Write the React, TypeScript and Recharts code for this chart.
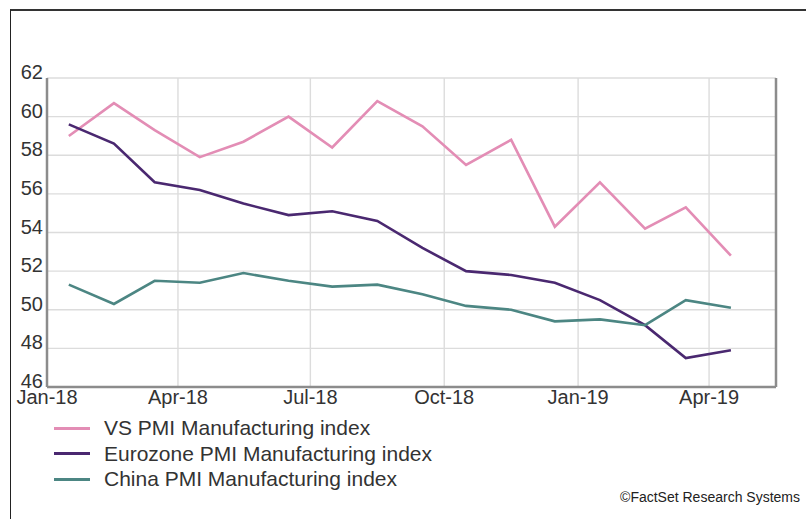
import React from 'react';
import { LineChart, Line, XAxis, YAxis, CartesianGrid } from 'recharts';

// monthly readings (plotted mid-month)
const months = [
  '2018-01-16', '2018-02-16', '2018-03-16', '2018-04-16', '2018-05-16', '2018-06-16',
  '2018-07-16', '2018-08-16', '2018-09-16', '2018-10-16', '2018-11-16', '2018-12-16',
  '2019-01-16', '2019-02-16', '2019-03-16', '2019-04-16',
];
const vsPmi = [59.0, 60.7, 59.3, 57.9, 58.7, 60.0, 58.4, 60.8, 59.5, 57.5, 58.8, 54.3, 56.6, 54.2, 55.3, 52.8];
const eurozonePmi = [59.6, 58.6, 56.6, 56.2, 55.5, 54.9, 55.1, 54.6, 53.2, 52.0, 51.8, 51.4, 50.5, 49.2, 47.5, 47.9];
const chinaPmi = [51.3, 50.3, 51.5, 51.4, 51.9, 51.5, 51.2, 51.3, 50.8, 50.2, 50.0, 49.4, 49.5, 49.2, 50.5, 50.1];

const tickDates = ['2018-01-01', '2018-04-01', '2018-07-01', '2018-10-01', '2019-01-01', '2019-04-01'];
const tickLabels = ['Jan-18', 'Apr-18', 'Jul-18', 'Oct-18', 'Jan-19', 'Apr-19'];
const yTicks = [46, 48, 50, 52, 54, 56, 58, 60, 62];

const seriesNames = ['VS PMI Manufacturing index', 'Eurozone PMI Manufacturing index', 'China PMI Manufacturing index'];
const colors = ['#e38db5', '#4a2870', '#4c8683'];

const ts = (d: string) => Date.parse(d + 'T00:00:00Z');
const xStart = ts('2018-01-01');
const xEnd = ts('2019-05-17');

const data = months.map((m, i) => ({
  t: ts(m),
  vs: vsPmi[i],
  ez: eurozonePmi[i],
  cn: chinaPmi[i],
}));
const xTicks = tickDates.map(ts);

const FONT = '"Liberation Sans", Arial, sans-serif';
const TEXT = '#333333';
const AXIS = '#8c8c8c';

const XTick = (props: any) => {
  const { x, y, payload } = props;
  const idx = xTicks.indexOf(payload.value);
  return (
    <text x={x} y={y + 17} textAnchor="middle" fontSize={20} fontFamily={FONT} fill={TEXT}>
      {tickLabels[idx]}
    </text>
  );
};

const YTickLeft = (props: any) => {
  const { x, y, payload } = props;
  return (
    <text x={x} y={y + 1} textAnchor="end" fontSize={20} fontFamily={FONT} fill={TEXT}>
      {payload.value}
    </text>
  );
};

const YTickRight = (props: any) => {
  const { x, y, payload } = props;
  return (
    <text x={x} y={y + 1} textAnchor="start" fontSize={20} fontFamily={FONT} fill={TEXT}>
      {payload.value}
    </text>
  );
};

export default function App() {
  const keys = ['vs', 'ez', 'cn'];
  return (
    <div style={{ position: 'absolute', left: 0, top: 0, width: 806, height: 519, background: '#fff', overflow: 'hidden', fontFamily: FONT }}>
      <div
        style={{
          position: 'absolute',
          left: 10,
          top: 9,
          width: 820,
          height: 540,
          borderTop: '2px solid #333',
          borderLeft: '1px solid #222',
        }}
      />
      <LineChart width={806} height={519} data={data} margin={{ top: 78, right: 0, bottom: 102, left: 0 }}>
        <CartesianGrid yAxisId="left" stroke="#dcdcdc" strokeWidth={1.4} />
        <XAxis
          dataKey="t"
          type="number"
          scale="linear"
          domain={[xStart, xEnd]}
          ticks={xTicks}
          tick={<XTick />}
          tickLine={false}
          tickSize={0}
          tickMargin={0}
          height={30}
          axisLine={{ stroke: AXIS, strokeWidth: 2.5 }}
          interval={0}
        />
        <YAxis
          yAxisId="left"
          orientation="left"
          domain={[46, 62]}
          ticks={yTicks}
          width={47}
          tick={<YTickLeft />}
          tickLine={false}
          tickSize={0}
          tickMargin={4}
          axisLine={{ stroke: AXIS, strokeWidth: 2.5 }}
          interval={0}
        />
        <YAxis
          yAxisId="right"
          orientation="right"
          domain={[46, 62]}
          ticks={yTicks}
          width={30}
          tick={<YTickRight />}
          tickLine={false}
          tickSize={0}
          tickMargin={7}
          axisLine={{ stroke: AXIS, strokeWidth: 2.5 }}
          interval={0}
        />
        {keys.map((k, i) => (
          <Line
            key={k}
            yAxisId="left"
            type="linear"
            dataKey={k}
            stroke={colors[i]}
            strokeWidth={2.6}
            dot={false}
            activeDot={false}
            isAnimationActive={false}
          />
        ))}
      </LineChart>
      {seriesNames.map((name, i) => (
        <div
          key={name}
          style={{ position: 'absolute', left: 54, top: 428 + i * 25.5 - 12, height: 24, display: 'flex', alignItems: 'center' }}
        >
          <div style={{ width: 36, height: 3, background: colors[i] }} />
          <span style={{ marginLeft: 14, fontSize: 21, color: TEXT, whiteSpace: 'nowrap' }}>{name}</span>
        </div>
      ))}
      <div style={{ position: 'absolute', right: 6, top: 489, fontSize: 14, color: '#222', whiteSpace: 'nowrap' }}>
        ©FactSet Research Systems
      </div>
    </div>
  );
}
